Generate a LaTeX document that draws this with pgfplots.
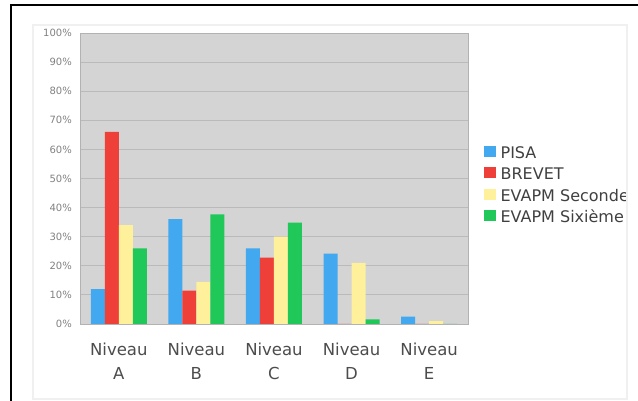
\documentclass[border=0pt]{standalone}
\usepackage{fontspec}
\setmainfont{DejaVu Sans}
\usepackage{pgfplots}
\pgfplotsset{compat=1.18}
\usepackage{pgfplotstable}

\definecolor{cpisa}{HTML}{42A8F0}
\definecolor{cbrevet}{HTML}{EE4038}
\definecolor{cseconde}{HTML}{FFF09C}
\definecolor{csixieme}{HTML}{20C85A}
\definecolor{plotbg}{HTML}{D4D4D4}
\definecolor{gridc}{HTML}{BABABA}

\pgfplotstableread{
cat pisa brevet seconde sixieme
0   12   66     34      26
1   36   11.5   14.5    37.7
2   26   22.8   30      34.8
3   24.2 0      21      1.6
4   2.5  0      1       0
}\niveaux

\begin{document}
\begin{tikzpicture}[x=1pt,y=1pt]
% outer frames
\draw[draw=black!6, line width=1.5pt] (33,2) rectangle (627,376);
\draw[line width=2.5pt] (11,0) -- (11,396) -- (638,396);

\begin{scope}
\clip (0,0) rectangle (625,401);
\begin{axis}[
    at={(80pt,77pt)}, anchor=south west,
    scale only axis,
    width=388pt, height=291pt,
    xmin=-0.5, xmax=4.5,
    ymin=0, ymax=100,
    ybar=0pt, bar width=14pt,
    axis background/.style={fill=plotbg},
    axis line style={draw=black!30},
    ymajorgrids=true,
    grid style={draw=gridc, line width=0.8pt},
    major tick length=0pt,
    ytick={0,10,...,100},
    yticklabel={\pgfmathprintnumber{\tick}\%},
    /pgf/number format/assume math mode=true,
    yticklabel style={font=\fontsize{10}{12}\selectfont, text=black!50, inner sep=0pt, xshift=-8pt},
    xtick={0,1,2,3,4},
    xticklabels={{Niveau\\A},{Niveau\\B},{Niveau\\C},{Niveau\\D},{Niveau\\E}},
    xticklabel style={font=\fontsize{16.5}{23.5}\selectfont, text=black!70, align=center, inner sep=0pt, yshift=-19pt},
    legend cell align=left,
    legend image code/.code={\fill[#1] (0pt,-2.5pt) rectangle (11.5pt,8.5pt);},
    legend style={draw=none, fill=none, at={(rel axis cs:1.041,0.614)}, anchor=north west,
        inner sep=0pt, row sep=6.1pt,
        font=\fontsize{16}{19}\selectfont, text=black!75,
        nodes={inner sep=0pt, text height=11pt, text depth=3pt},
        /tikz/every odd column/.append style={column sep=5pt}},
]
\addplot[draw=none, fill=cpisa] table[x=cat, y=pisa] {\niveaux};
\addplot[draw=none, fill=cbrevet] table[x=cat, y=brevet] {\niveaux};
\addplot[draw=none, fill=cseconde] table[x=cat, y=seconde] {\niveaux};
\addplot[draw=none, fill=csixieme] table[x=cat, y=sixieme] {\niveaux};
\legend{PISA, BREVET, EVAPM Seconde, EVAPM Sixième}
\end{axis}
\end{scope}

\pgfresetboundingbox
\path[use as bounding box] (0,0) rectangle (638,401);
\end{tikzpicture}
\end{document}
